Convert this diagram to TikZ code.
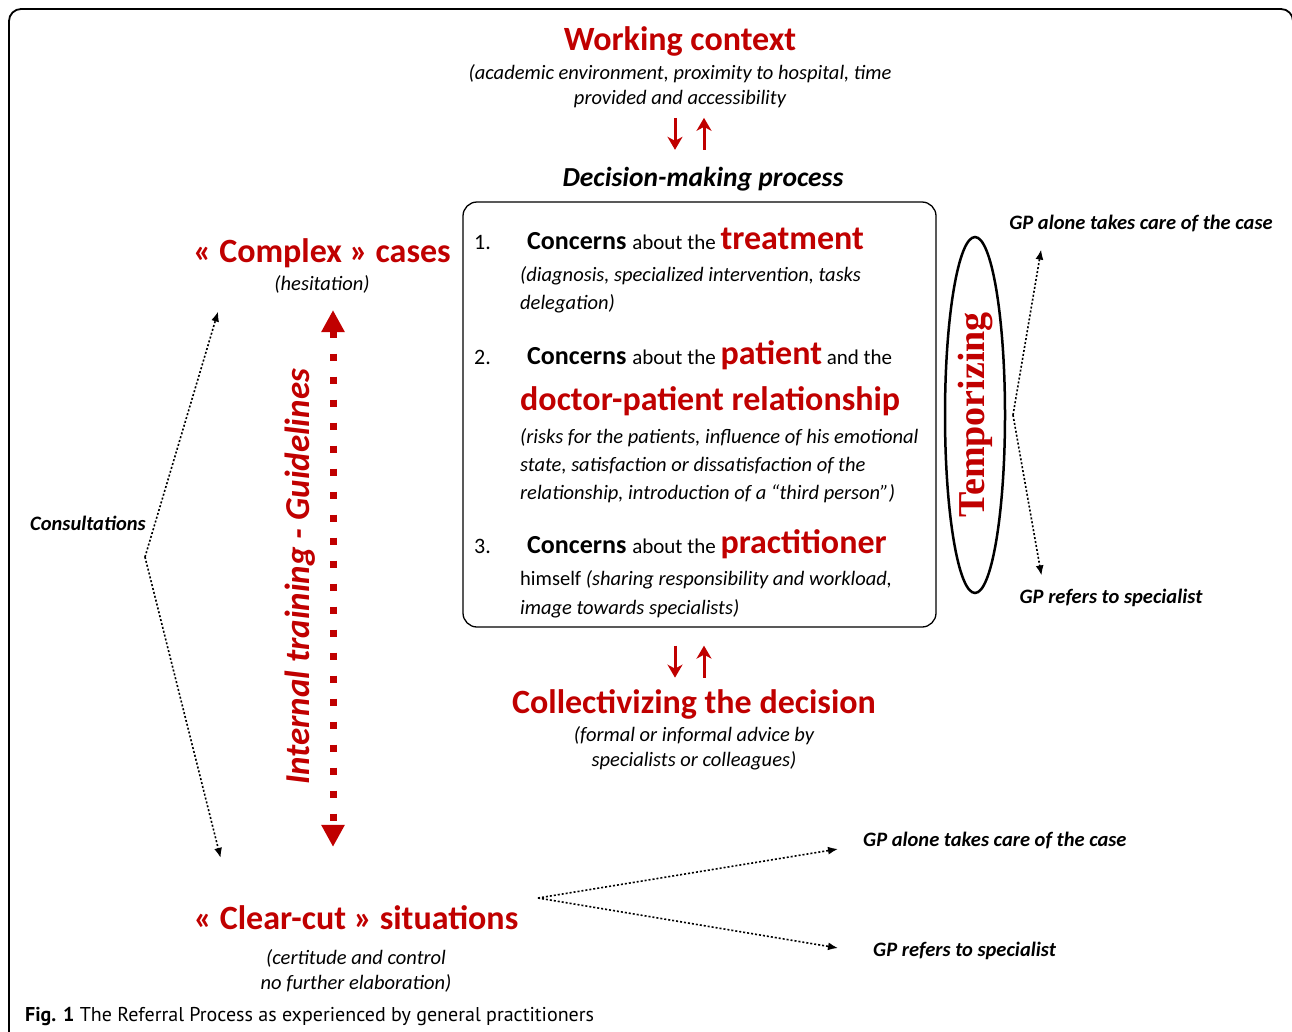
\documentclass[tikz,border=0pt]{standalone}
\usepackage{fontspec}
\setmainfont{Carlito}
\newfontfamily\tempfont{Liberation Serif}
\newfontfamily\capfont{PT Sans}
\usetikzlibrary{arrows.meta,shapes.geometric}
\definecolor{refred}{RGB}{192,0,0}
\tikzset{
  title/.style={text=refred,font=\bfseries\fontsize{34}{40}\selectfont,inner sep=0},
  remark/.style={font=\itshape\fontsize{20.5}{25}\selectfont,align=center,inner sep=0},
  outcome/.style={font=\bfseries\itshape\fontsize{20.5}{24}\selectfont,inner sep=0},
  dotarrow/.style={->,line width=1.6pt,dash pattern=on 2pt off 2pt},
  redarrow/.style={-{Stealth[length=13pt,width=15pt,inset=4pt]},refred,line width=3pt},
  guidearrow/.style={{Triangle[length=22pt,width=22pt]}-{Triangle[length=22pt,width=22pt]},refred,line width=7pt,dash pattern=on 7pt off 16pt}
}
\newcommand{\concern}[1]{{\bfseries\fontsize{26}{30}\selectfont Concerns }{\fontsize{21}{25}\selectfont about the }{\color{refred}\bfseries\fontsize{34}{40}\selectfont #1}}

\begin{document}
\begin{tikzpicture}[>={Latex[length=10pt,width=8pt]},x=1pt,y=-1pt]
\useasboundingbox (0,0) rectangle (1292,1031);
\draw[line width=1.8pt,rounded corners=12pt] (9,1045)--(9,9)--(1293,9)--(1293,1045);

\node (ctx) at (680,50)[title,anchor=base]{Working context};
\node (ctxd) at (680,86)[remark]{(academic environment, proximity to hospital, time\\provided and accessibility};
\draw[redarrow] ([xshift=-5pt,yshift=-10pt]ctxd.south)--++(0,32);
\draw[redarrow] ([xshift=24pt,yshift=-42pt]ctxd.south)--++(0,-32);

\node (dmpl) at (703,186)[anchor=base,inner sep=0,font=\bfseries\itshape\fontsize{27.5}{30}\selectfont]{Decision-making process};
\node (dmp) at (699.5,414.5)[draw,line width=1.3pt,rounded corners=14pt,minimum width=473pt,minimum height=425pt]{};

\foreach \y/\n in {249/1,364/2,553/3}
{
    \node (num\n) at (474,\y)[anchor=base west,inner sep=0,font=\fontsize{22}{26}\selectfont]{\n.};
}
\node (c1) at (527,249)[anchor=base west,inner sep=0]{\concern{treatment}};
\node (c2) at (527,364)[anchor=base west,inner sep=0]{\concern{patient}{\fontsize{21}{25}\selectfont\ and the}};
\node (dpr) at (520,410)[title,anchor=base west]{doctor-patient relationship};
\node (c3) at (527,553)[anchor=base west,inner sep=0]{\concern{practitioner}};
\foreach \y/\txt [count=\i] in {281/{(diagnosis, specialized intervention, tasks},309/{delegation)},
    443/{(risks for the patients, influence of his emotional},471/{state, satisfaction or dissatisfaction of the},
    499/{relationship, introduction of a “third person”)},585/{{\upshape himself} (sharing responsibility and workload,},
    614/{image towards specialists)}}
{
    \node (d\i) at (520,\y)[remark,anchor=base west]{\txt};
}

\node (temp) at (975,415)[draw,ellipse,line width=2.5pt,rotate=90,minimum width=356pt,minimum height=60pt,inner sep=0,text=refred,font=\tempfont\bfseries\fontsize{38}{40}\selectfont]{Temporizing};
\coordinate (tv) at (1013,415);
\node (gpa1) at (1141,229)[outcome,anchor=base]{GP alone takes care of the case};
\node (gpr1) at (1111,603)[outcome,anchor=base]{GP refers to specialist};
\draw[dotarrow] (tv)--([xshift=32pt,yshift=-18pt]gpa1.south west);
\draw[dotarrow] (tv)--([xshift=22pt,yshift=13pt]gpr1.north west);

\node (cplx) at (322,262)[title,anchor=base]{« Complex » cases};
\node (hes) at (322,290)[remark,anchor=base]{(hesitation)};
\node (clear) at (356,929)[title,anchor=base]{« Clear-cut » situations};
\node (cleard) at (356,970.5)[remark]{(certitude and control\\no further elaboration)};
\draw[guidearrow] ([xshift=11pt,yshift=-17pt]hes.south)--([xshift=-23pt,yshift=58pt]clear.north);
\node (guide) at (300,577)[rotate=90,inner sep=0,text=refred,font=\bfseries\itshape\fontsize{35}{40}\selectfont]{Internal training - Guidelines};

\node (cons) at (30,530)[outcome,anchor=base west]{Consultations};
\coordinate (cv) at (145,557);
\draw[dotarrow] (cv)--([xshift=25pt,yshift=-44pt]cplx.south west);
\draw[dotarrow] (cv)--([xshift=27pt,yshift=47pt]clear.north west);

\node (coll) at (694,713)[title,anchor=base]{Collectivizing the decision};
\node (colld) at (694,748.5)[remark]{(formal or informal advice by\\specialists or colleagues)};
\draw[redarrow] ([xshift=-24.5pt,yshift=-18pt]dmp.south)--++(0,32);
\draw[redarrow] ([xshift=4.5pt,yshift=-50pt]dmp.south)--++(0,-32);

\coordinate (bv) at (538,898);
\node (gpa2) at (863,846)[outcome,anchor=base west]{GP alone takes care of the case};
\node (gpr2) at (873,956)[outcome,anchor=base west]{GP refers to specialist};
\draw[dotarrow] (bv)--([xshift=-25pt,yshift=-3pt]gpa2.base west);
\draw[dotarrow] (bv)--([xshift=-35pt,yshift=8pt]gpr2.base west);

\node (cap) at (25,1021)[anchor=base west,inner sep=0,font=\capfont\fontsize{20}{24}\selectfont]{\textbf{Fig. 1} The Referral Process as experienced by general practitioners};
\end{tikzpicture}
\end{document}
